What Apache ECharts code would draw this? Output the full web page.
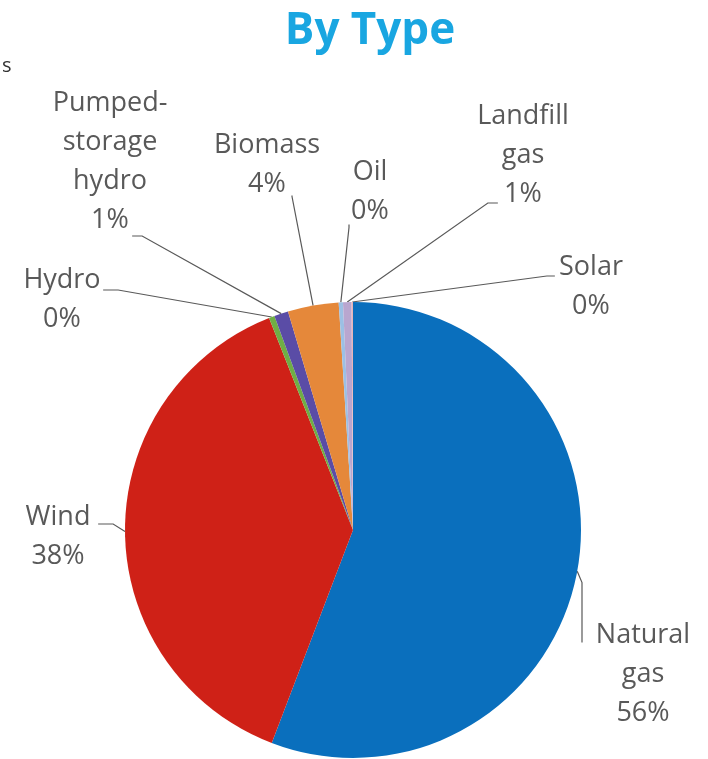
<!DOCTYPE html>
<html>
<head>
<meta charset="utf-8">
<script src="https://cdn.jsdelivr.net/npm/echarts@6/dist/echarts.min.js"></script>
<style>
  html, body { margin: 0; padding: 0; background: #fff; }
  #chart { width: 708px; height: 759px; }
</style>
</head>
<body>
<div id="chart"></div>
<script>
// Generation capacity by fuel type (share of total, %)
const categories = ['Natural\ngas', 'Wind', 'Hydro', 'Pumped-\nstorage\nhydro', 'Biomass', 'Oil', 'Landfill\ngas', 'Solar'];
const shares     = [55.8, 38.2, 0.4, 1.0, 3.6, 0.3, 0.6, 0.1];
const colors     = ['#0a6fbd', '#cf2117', '#6fae45', '#5a4ca6', '#e5883a', '#9cc0e4', '#b9a6cf', '#e8b4b8'];

// Layout: centre of each text block
const labelSpots = [
  [643, 674], [58, 537], [62, 300], [110, 162],
  [267, 165], [370, 192], [523, 155], [591, 287]
];
// Layout: where each leader line meets its text, and the length of its first leg
const leaderEnds = [
  [582, 643, 60], [98, 524, 15], [103, 290, 15], [132, 236, 10],
  [292, 195, 1], [349, 224, 3], [498, 203, 10], [555, 276, 8]
];

const CENTER = [353, 530];
const RADIUS = 228;
const TEXT = '#595959';

const chart = echarts.init(document.getElementById('chart'), null, { renderer: 'canvas' });

const sliceData = categories.map((name, i) => ({
  name: name,
  value: shares[i],
  itemStyle: { color: colors[i] }
}));

chart.setOption({
  backgroundColor: '#ffffff',
  animation: false,
  title: {
    text: 'By Type',
    left: 365,
    top: 4,
    textAlign: 'center',
    textStyle: {
      fontFamily: 'Open Sans',
      fontWeight: 'bold',
      fontSize: 44,
      color: '#19a6e1'
    }
  },
  graphic: [{
    type: 'text',
    left: 2,
    top: 56,
    style: { text: 's', font: '20px "Open Sans"', fill: '#333333' }
  }],
  series: [
    {
      // slices and their name / percent labels
      type: 'pie',
      center: CENTER,
      radius: [0, RADIUS],
      startAngle: 90,
      clockwise: true,
      avoidLabelOverlap: false,
      data: sliceData,
      itemStyle: { borderWidth: 0 },
      label: {
        show: true,
        position: 'outside',
        formatter: p => p.name + '\n' + Math.round(p.value) + '%',
        fontFamily: 'Open Sans',
        fontSize: 27,
        lineHeight: 39,
        color: TEXT,
        align: 'center'
      },
      labelLine: { show: false },
      labelLayout: params => ({
        x: labelSpots[params.dataIndex][0],
        y: labelSpots[params.dataIndex][1],
        align: 'center',
        verticalAlign: 'middle'
      }),
      emphasis: { disabled: true }
    },
    {
      // leader lines from each slice to its text
      type: 'pie',
      center: CENTER,
      radius: [0, RADIUS],
      startAngle: 90,
      clockwise: true,
      silent: true,
      avoidLabelOverlap: false,
      data: categories.map((name, i) => ({
        name: name,
        value: shares[i],
        labelLine: { length2: leaderEnds[i][2] }
      })),
      itemStyle: { color: 'rgba(0,0,0,0)', borderWidth: 0 },
      label: {
        show: true,
        position: 'outside',
        formatter: ' ',
        fontSize: 1,
        lineHeight: 1,
        color: 'rgba(0,0,0,0)'
      },
      labelLine: {
        show: true,
        length: 5,
        smooth: false,
        minTurnAngle: 0,
        lineStyle: { color: TEXT, width: 1.2 }
      },
      labelLayout: params => ({
        x: leaderEnds[params.dataIndex][0],
        y: leaderEnds[params.dataIndex][1],
        align: 'center',
        verticalAlign: 'middle'
      }),
      emphasis: { disabled: true }
    }
  ]
});
</script>
</body>
</html>
